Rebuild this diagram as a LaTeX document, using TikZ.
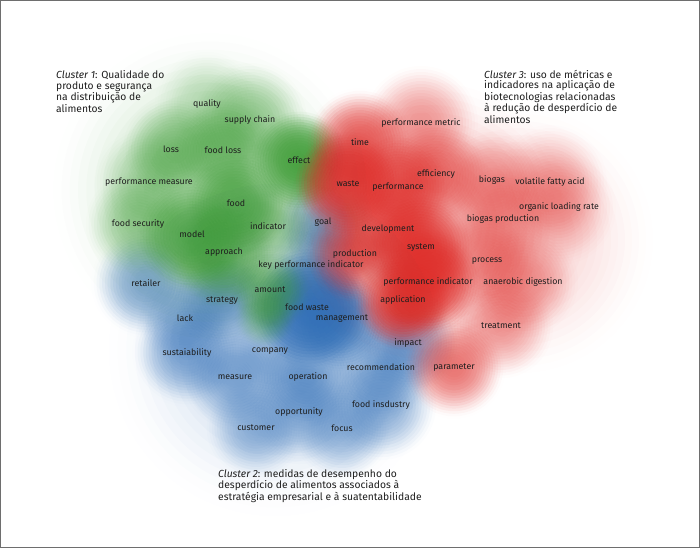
\documentclass[tikz,border=0pt]{standalone}
\usepackage{fontspec}
\setmainfont{Fira Sans}
\definecolor{gcol}{RGB}{62,156,54}
\definecolor{rcol}{RGB}{222,44,40}
\definecolor{bcol}{RGB}{48,110,182}
\definecolor{framecol}{RGB}{110,110,110}
\definecolor{txt}{RGB}{30,30,30}
% soft blob: stacked concentric discs with a smooth transmittance profile
\newcommand{\myblob}[5]{%
  \foreach \k in {1,...,20}{%
    \pgfmathsetmacro{\ha}{(1-((\k-0.5)/20)^2)^2}%
    \pgfmathsetmacro{\hb}{\k<20 ? (1-((\k+0.5)/20)^2)^2 : 0}%
    \pgfmathsetmacro{\aa}{1-(1-#5)^(\ha-\hb)}%
    \pgfmathsetmacro{\rr}{#4*\k/20}%
    \fill[#1, fill opacity=\aa] (#2,#3) circle (\rr pt);
  }}
\tikzset{
  lbl/.style={font=\fontsize{8.8}{10}\selectfont, text=txt, inner sep=0pt, text height=6.4pt, text depth=2.2pt},
  head/.style={font=\fontsize{10.3}{10.4}\selectfont, align=left, anchor=north west, inner sep=0pt, text=txt}
}
\begin{document}
\begin{tikzpicture}[x=1pt,y=-1pt]
\useasboundingbox (0,0) rectangle (700,548);
% ---------- blue density ----------
\myblob{bcol}{275}{350}{175}{0.25}
\myblob{bcol}{323}{222}{50}{0.6}
\myblob{bcol}{318}{262}{50}{0.5}
\myblob{bcol}{146}{283}{55}{0.6}
\myblob{bcol}{222}{300}{52}{0.65}
\myblob{bcol}{310}{308}{62}{0.95}
\myblob{bcol}{340}{322}{52}{0.8}
\myblob{bcol}{185}{318}{50}{0.45}
\myblob{bcol}{187}{352}{55}{0.6}
\myblob{bcol}{270}{349}{50}{0.3}
\myblob{bcol}{408}{343}{52}{0.6}
\myblob{bcol}{381}{370}{55}{0.5}
\myblob{bcol}{235}{377}{55}{0.55}
\myblob{bcol}{308}{377}{55}{0.6}
\myblob{bcol}{299}{412}{55}{0.45}
\myblob{bcol}{381}{405}{58}{0.55}
\myblob{bcol}{256}{428}{52}{0.5}
\myblob{bcol}{342}{429}{52}{0.5}
% ---------- green density ----------
\myblob{gcol}{210}{190}{165}{0.28}
\myblob{gcol}{207}{104}{55}{0.3}
\myblob{gcol}{250}{120}{60}{0.5}
\myblob{gcol}{175}{150}{55}{0.6}
\myblob{gcol}{223}{151}{55}{0.6}
\myblob{gcol}{299}{161}{52}{0.92}
\myblob{gcol}{149}{182}{58}{0.4}
\myblob{gcol}{236}{204}{55}{0.8}
\myblob{gcol}{138}{224}{55}{0.5}
\myblob{gcol}{192}{236}{58}{0.82}
\myblob{gcol}{268}{226}{50}{0.45}
\myblob{gcol}{224}{255}{55}{0.7}
\myblob{gcol}{270}{290}{42}{0.6}
\myblob{gcol}{265}{318}{32}{0.45}
% ---------- red density ----------
\myblob{rcol}{430}{225}{150}{0.3}
\myblob{rcol}{520}{240}{140}{0.2}
\myblob{rcol}{421}{123}{60}{0.45}
\myblob{rcol}{360}{143}{55}{0.75}
\myblob{rcol}{348}{184}{55}{0.88}
\myblob{rcol}{398}{187}{55}{0.75}
\myblob{rcol}{436}{174}{55}{0.6}
\myblob{rcol}{492}{181}{55}{0.4}
\myblob{rcol}{550}{182}{60}{0.35}
\myblob{rcol}{559}{208}{60}{0.35}
\myblob{rcol}{503}{218}{55}{0.35}
\myblob{rcol}{388}{229}{55}{0.65}
\myblob{rcol}{420}{247}{55}{0.85}
\myblob{rcol}{355}{254}{50}{0.7}
\myblob{rcol}{487}{260}{55}{0.4}
\myblob{rcol}{428}{282}{55}{0.88}
\myblob{rcol}{523}{282}{58}{0.45}
\myblob{rcol}{403}{302}{50}{0.88}
\myblob{rcol}{501}{326}{55}{0.45}
\myblob{rcol}{454}{367}{52}{0.65}
% ---------- frame ----------
\draw[framecol, line width=1pt] (0.5,0.5) rectangle (699.5,547.5);
% ---------- cluster headings ----------
\node[head] (c1) at (56,70.4) {\textit{Cluster 1}: Qualidade do\\produto e segurança\\na distribuição de\\alimentos};
\node[head] (c3) at (484,70) {\textit{Cluster 3}: uso de métricas e\\indicadores na aplicação de\\biotecnologias relacionadas\\à redução de desperdício de\\alimentos};
\node[head] (c2) at (218,469) {\textit{Cluster 2}: medidas de desempenho do\\desperdício de alimentos associados à\\estratégia empresarial e à suatentabilidade};
% ---------- green labels ----------
\node[lbl] (quality) at (207,104) {quality};
\node[lbl] (supplychain) at (250,120) {supply chain};
\node[lbl] (loss) at (171,150) {loss};
\node[lbl] (foodloss) at (223,151) {food loss};
\node[lbl] (effect) at (299,161) {effect};
\node[lbl] (perfmeasure) at (149,182) {performance measure};
\node[lbl] (food) at (236,204) {food};
\node[lbl] (foodsecurity) at (138,224) {food security};
\node[lbl] (model) at (192,235) {model};
\node[lbl] (indicator) at (268,227) {indicator};
\node[lbl] (approach) at (224,252) {approach};
\node[lbl] (amount) at (270,290) {amount};
% ---------- red labels ----------
\node[lbl] (perfmetric) at (421,123) {performance metric};
\node[lbl] (time) at (360,143) {time};
\node[lbl] (waste) at (348,184) {waste};
\node[lbl] (performance) at (398,187) {performance};
\node[lbl] (efficiency) at (436,174) {efficiency};
\node[lbl] (biogas) at (492,180) {biogas};
\node[lbl] (vfa) at (550,182) {volatile fatty acid};
\node[lbl] (olr) at (559,207) {organic loading rate};
\node[lbl] (biogasprod) at (503,219) {biogas production};
\node[lbl] (development) at (388,229) {development};
\node[lbl] (system) at (421,247) {system};
\node[lbl] (production) at (355,254) {production};
\node[lbl] (process) at (487,260) {process};
\node[lbl] (perfindicator) at (428,282) {performance indicator};
\node[lbl] (anaerobic) at (523,282) {anaerobic digestion};
\node[lbl] (application) at (403,300) {application};
\node[lbl] (treatment) at (501,326) {treatment};
\node[lbl] (parameter) at (454,367) {parameter};
% ---------- blue labels ----------
\node[lbl] (goal) at (323,222) {goal};
\node[lbl] (kpi) at (311,265) {key performance indicator};
\node[lbl] (retailer) at (146,284) {retailer};
\node[lbl] (strategy) at (222,300) {strategy};
\node[lbl] (foodwaste) at (307,308) {food waste};
\node[lbl] (management) at (342,318) {management};
\node[lbl] (lack) at (185,319) {lack};
\node[lbl] (sustaiability) at (187,353) {sustaiability};
\node[lbl] (company) at (270,350) {company};
\node[lbl] (impact) at (408,343) {impact};
\node[lbl] (recommendation) at (381,368) {recommendation};
\node[lbl] (measure) at (235,377) {measure};
\node[lbl] (operation) at (308,377) {operation};
\node[lbl] (foodindustry) at (381,405) {food insdustry};
\node[lbl] (opportunity) at (299,412) {opportunity};
\node[lbl] (customer) at (256,428) {customer};
\node[lbl] (focus) at (342,429) {focus};
\end{tikzpicture}
\end{document}
